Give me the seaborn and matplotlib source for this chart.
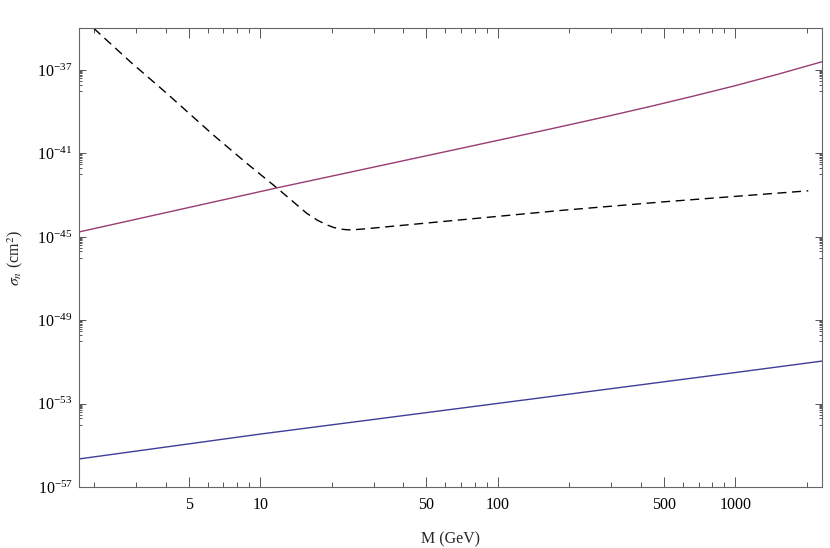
import numpy as np
import pandas as pd
import seaborn as sns
import matplotlib.pyplot as plt
from matplotlib.ticker import FixedLocator, FixedFormatter, LogFormatterMathtext, NullFormatter


# Curvas (massa em GeV, log10 da seção de choque em cm^2)
limit_mass = [1.99, 2.84, 4.05, 6.35, 8.79, 11.75, 15.7, 17.4, 19.05, 20.4, 21.9, 23.4,
              25.1, 27.2, 71.6, 188.8, 497.7, 2028]
limit_log_sigma = [-35.0, -36.61, -38.13, -40.12, -41.48, -42.65, -43.87, -44.2, -44.42,
                   -44.55, -44.63, -44.66, -44.65, -44.62, -44.17, -43.72, -43.32, -42.79]

upper_mass = [1.73, 11.75, 21.7, 64.6, 158.5, 281.8, 437.5, 660.7, 1000, 1514, 2323]
upper_log_sigma = [-44.76, -42.65, -42.0, -40.84, -39.88, -39.25, -38.75, -38.26,
                   -37.75, -37.20, -36.60]

lower_mass = [1.73, 10, 100, 1000, 2323]
lower_log_sigma = [-55.64, -54.45, -52.98, -51.5, -50.95]

x_major = [5, 10, 50, 100, 500, 1000]
x_minor = [2, 3, 4, 6, 7, 8, 9, 20, 30, 40, 60, 70, 80, 90, 200, 300, 400, 600, 700, 800, 900, 2000]
y_major_exp = [-57, -53, -49, -45, -41, -37]


sns.set_style('ticks')
plt.rcParams['font.family'] = ['Liberation Serif', 'DejaVu Serif']
plt.rcParams['mathtext.fontset'] = 'stix'

fig = plt.figure(figsize=(8.3, 5.48), dpi=100)
ax = fig.add_axes([0.0955, 0.1108, 0.8952, 0.8376])

limit = pd.DataFrame({'M': limit_mass, 'sigma': np.power(10.0, limit_log_sigma)})
upper = pd.DataFrame({'M': upper_mass, 'sigma': np.power(10.0, upper_log_sigma)})
lower = pd.DataFrame({'M': lower_mass, 'sigma': np.power(10.0, lower_log_sigma)})

sns.lineplot(data=lower, x='M', y='sigma', color='#3f3d99', lw=1.0, ax=ax)
sns.lineplot(data=upper, x='M', y='sigma', color='#993d74', lw=1.0, ax=ax)
sns.lineplot(data=limit, x='M', y='sigma', color='black', lw=1.0, ax=ax,
             dashes=False, linestyle=(0, (6.5, 4)))

ax.set_xscale('log')
ax.set_yscale('log')
ax.set_xlim(1.73, 2323)
ax.set_ylim(1e-57, 1e-35)

# Ticks estilo Mathematica
ax.xaxis.set_major_locator(FixedLocator(x_major))
ax.xaxis.set_major_formatter(FixedFormatter([str(v) for v in x_major]))
ax.xaxis.set_minor_locator(FixedLocator(x_minor))
ax.xaxis.set_minor_formatter(NullFormatter())

y_major = [10.0 ** e for e in y_major_exp]
y_minor = [k * 10.0 ** (e - 1) for e in y_major_exp for k in range(1, 10)]
ax.yaxis.set_major_locator(FixedLocator(y_major))
ax.yaxis.set_major_formatter(LogFormatterMathtext())
ax.yaxis.set_minor_locator(FixedLocator(y_minor))
ax.yaxis.set_minor_formatter(NullFormatter())

ax.tick_params(which='both', direction='in', top=True, right=True,
               color='#555555', width=0.7, labelsize=11.5, labelcolor='black')
ax.tick_params(axis='x', which='major', length=7, pad=7)
ax.tick_params(axis='x', which='minor', length=3.5)
ax.tick_params(axis='y', which='major', length=5, pad=5)
ax.tick_params(axis='y', which='minor', length=2.5)

for sp in ax.spines.values():
    sp.set_color('#666666')
    sp.set_linewidth(0.8)

ax.set_xlabel('M (GeV)', fontsize=11.5, labelpad=13)
ax.set_ylabel(r'$\sigma_n$ (cm$^2$)', fontsize=11.5, labelpad=9)

plt.savefig('out.png', dpi=100)
